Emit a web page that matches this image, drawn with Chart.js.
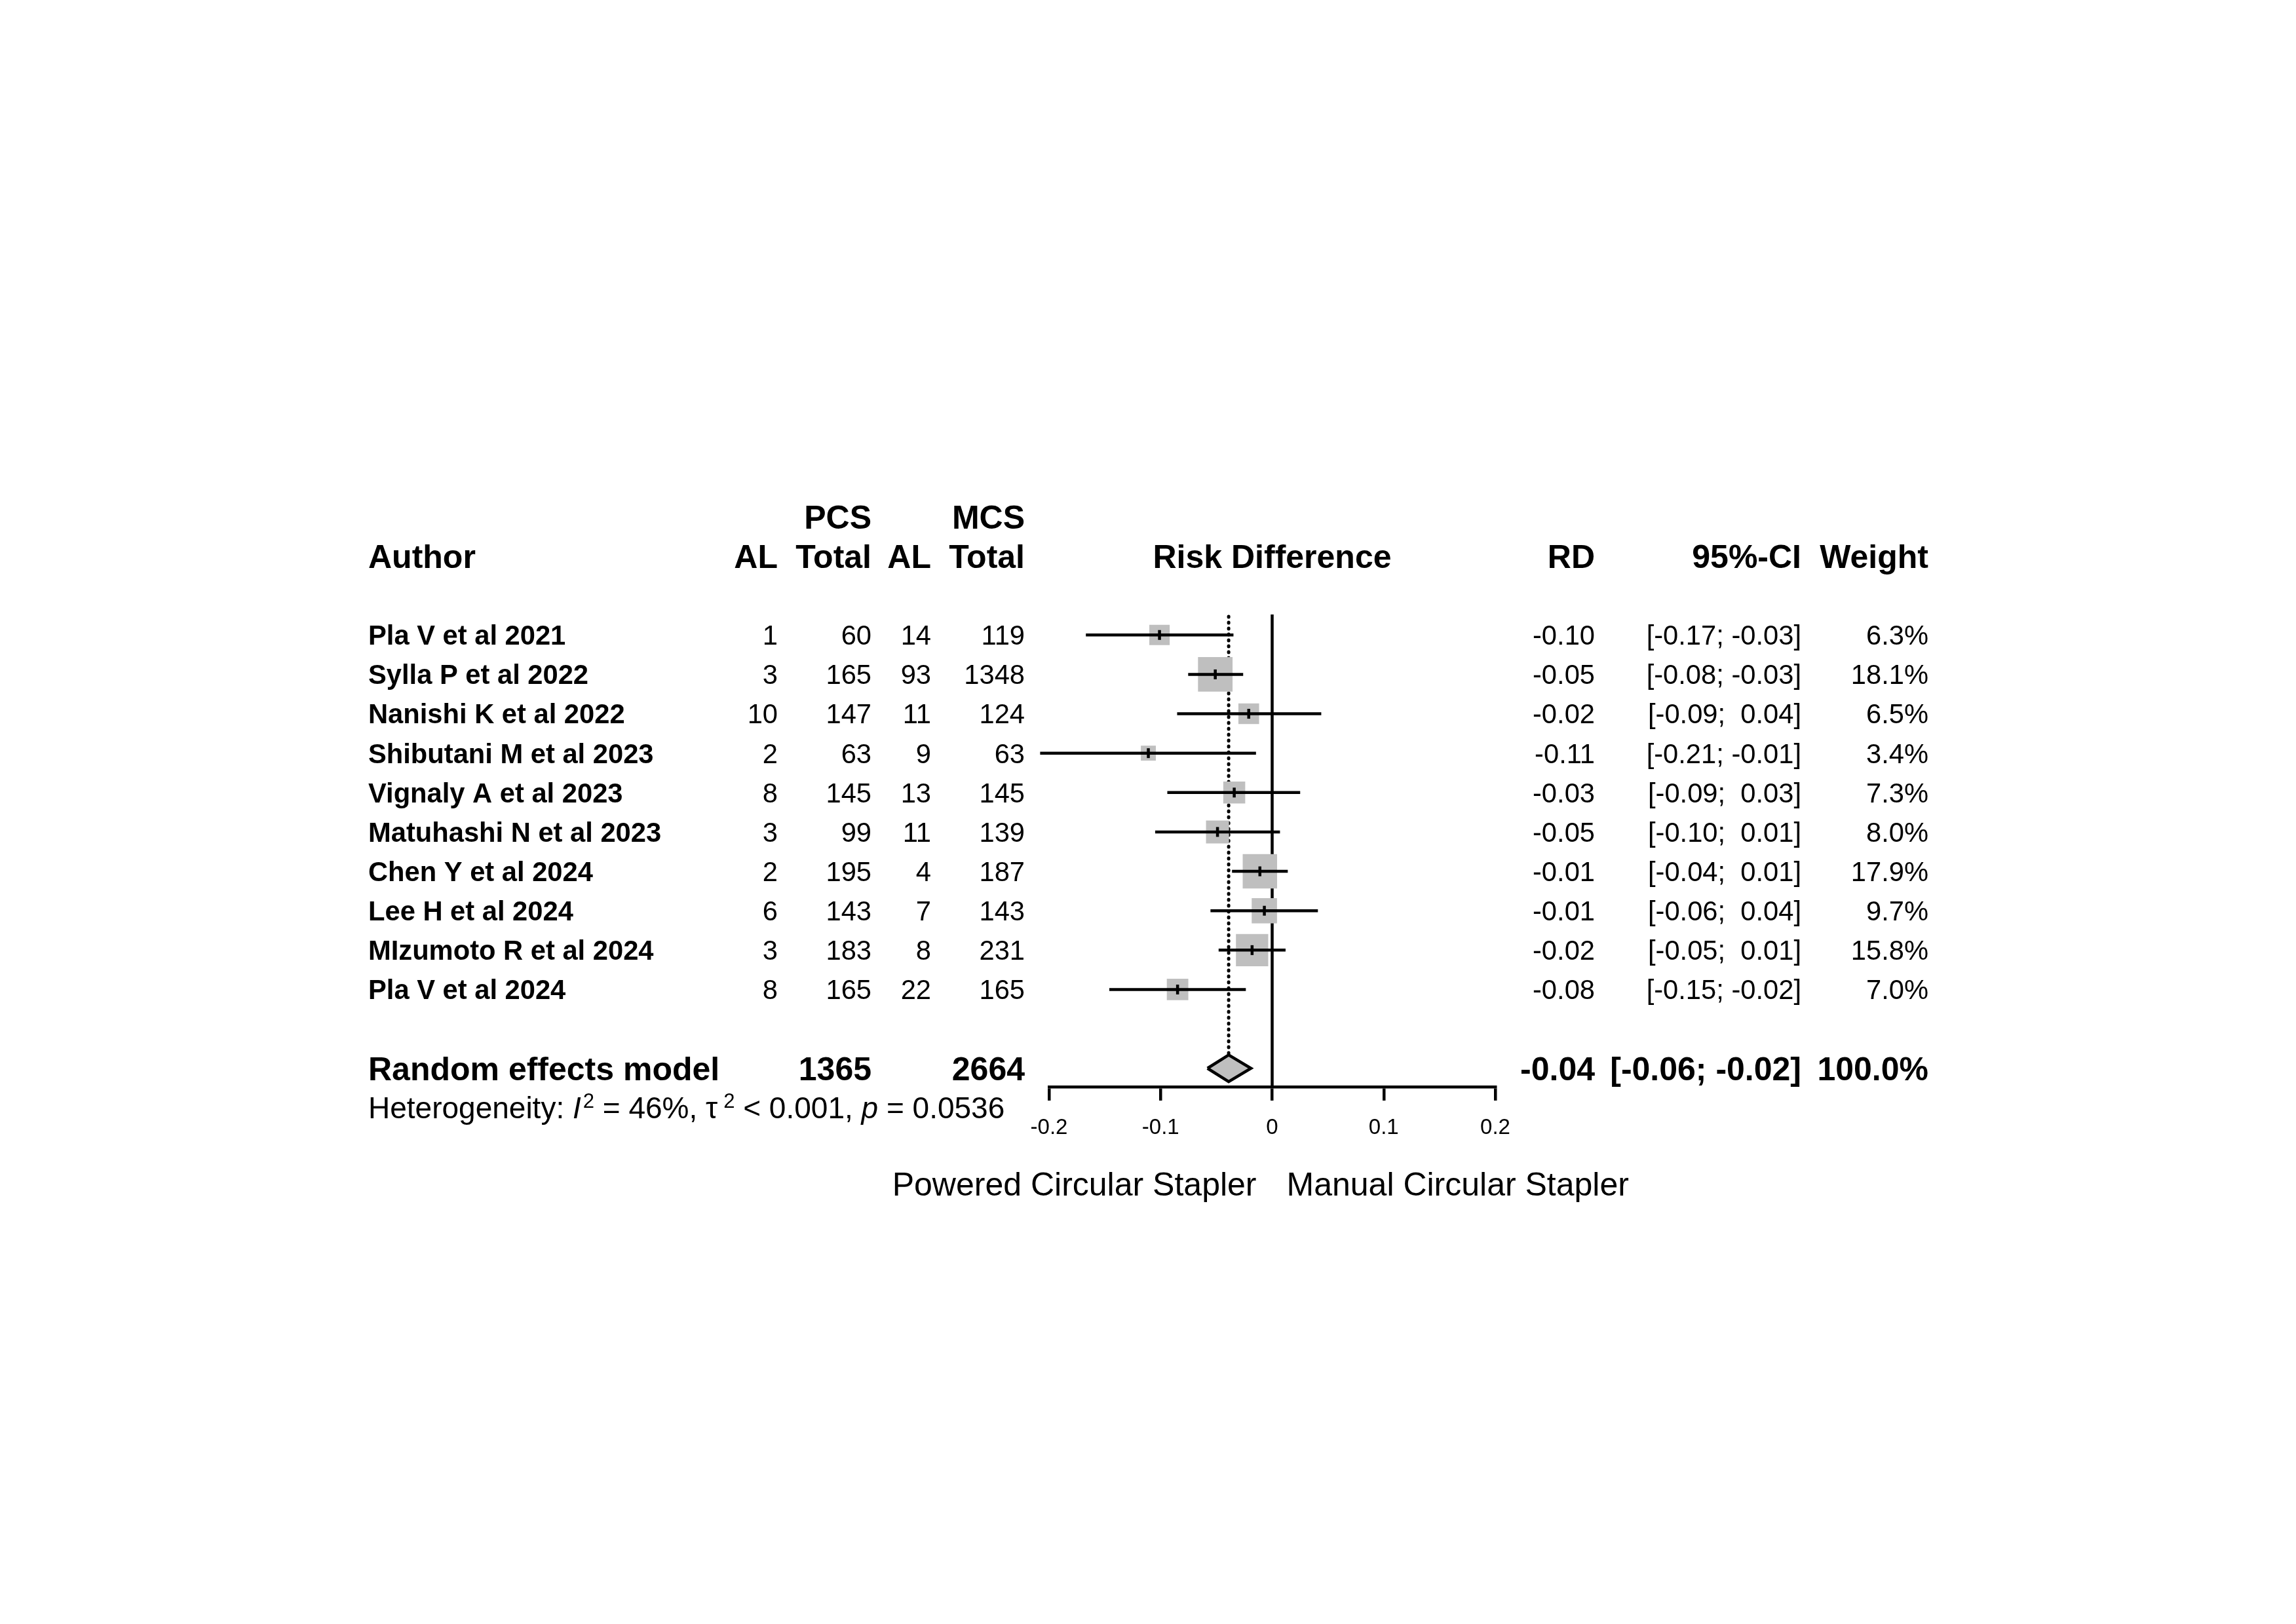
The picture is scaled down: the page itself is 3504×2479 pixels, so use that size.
<!DOCTYPE html>
<html>
<head>
<meta charset="utf-8">
<title>Forest plot – PCS vs MCS, anastomotic leak</title>
<script src="https://cdn.jsdelivr.net/npm/chart.js@4.4.1/dist/chart.umd.min.js"></script>
<style>
  html, body { margin: 0; padding: 0; background: #fff; }
  canvas { display: block; }
</style>
</head>
<body>
<canvas id="forest" width="3504" height="2479" style="width:3504px;height:2479px"></canvas>
<script>
'use strict';

// ── Data ─────────────────────────────────────────────────────
const authors = [
  'Pla V et al 2021', 'Sylla P et al 2022', 'Nanishi K et al 2022',
  'Shibutani M et al 2023', 'Vignaly A et al 2023', 'Matuhashi N et al 2023',
  'Chen Y et al 2024', 'Lee H et al 2024', 'MIzumoto R et al 2024', 'Pla V et al 2024'
];
const alPCS    = [1, 3, 10, 2, 8, 3, 2, 6, 3, 8];
const totalPCS = [60, 165, 147, 63, 145, 99, 195, 143, 183, 165];
const alMCS    = [14, 93, 11, 9, 13, 11, 4, 7, 8, 22];
const totalMCS = [119, 1348, 124, 63, 145, 139, 187, 143, 231, 165];

const rd     = [-0.101, -0.051, -0.021, -0.111, -0.034, -0.049, -0.011, -0.007, -0.018, -0.0848];
const ciLow  = [-0.167, -0.0753, -0.0852, -0.208, -0.094, -0.1049, -0.036, -0.0553, -0.048, -0.146];
const ciHigh = [-0.0347, -0.026, 0.044, -0.0145, 0.0251, 0.007, 0.014, 0.041, 0.012, -0.0236];
const weights = [6.3, 18.1, 6.5, 3.4, 7.3, 8.0, 17.9, 9.7, 15.8, 7.0];

const summaryRD = -0.039;
const summaryLow = -0.058;
const summaryHigh = -0.019;
const summaryTotals = [1365, 2664];
const hetI2 = '46%';
const hetTau2 = '< 0.001';
const hetP = '0.0536';

const xTicks = [-0.2, -0.1, 0, 0.1, 0.2];
const xTickLabels = ['-0.2', '-0.1', '0', '0.1', '0.2'];

const labelLeft = 'Powered Circular Stapler';
const labelRight = 'Manual Circular Stapler';

// ── Layout ───────────────────────────────────────────────────
const FONT = "'Liberation Sans', Arial, Helvetica, sans-serif";
const SUMMARY_ROW = authors.length + 1;
const HET_ROW = SUMMARY_ROW + 1;
const LABEL_ROW = SUMMARY_ROW + 2.93;
const Y_MIN = -0.52, Y_MAX = 11.47;
const DIAMOND_HALF = 0.34;

const COL = { author: 562, alP: 1187, totP: 1330, alM: 1421, totM: 1564, rd: 2434, ci: 2749, w: 2943 };
const BODY = 41.7, HEAD = 50;

Chart.defaults.font.family = FONT;
Chart.defaults.color = '#000';

function fmtCI(lo, hi) {
  const f = v => (v < 0 ? '' : ' ') + v.toFixed(2);
  return '[' + f(lo) + '; ' + f(hi) + ']';
}

function put(ctx, str, x, y, align, size, bold, italic) {
  ctx.font = (italic ? 'italic ' : '') + (bold ? 'bold ' : '') + size + 'px ' + FONT;
  ctx.textAlign = align;
  ctx.textBaseline = 'alphabetic';
  ctx.fillText(str, x, y + size * 0.358);
}

const tablePlugin = {
  id: 'forestTable',
  afterDraw(chart) {
    const ctx = chart.ctx;
    const ys = chart.scales.y;
    const xs = chart.scales.x;
    const row = r => ys.getPixelForValue(r);
    ctx.save();
    ctx.fillStyle = '#000';

    // headers
    put(ctx, 'PCS', COL.totP, row(-3), 'right', HEAD, true);
    put(ctx, 'MCS', COL.totM, row(-3), 'right', HEAD, true);
    put(ctx, 'Author', COL.author, row(-2), 'left', HEAD, true);
    put(ctx, 'AL', COL.alP, row(-2), 'right', HEAD, true);
    put(ctx, 'Total', COL.totP, row(-2), 'right', HEAD, true);
    put(ctx, 'AL', COL.alM, row(-2), 'right', HEAD, true);
    put(ctx, 'Total', COL.totM, row(-2), 'right', HEAD, true);
    put(ctx, 'Risk Difference', xs.getPixelForValue(0), row(-2), 'center', HEAD, true);
    put(ctx, 'RD', COL.rd, row(-2), 'right', HEAD, true);
    put(ctx, '95%-CI', COL.ci, row(-2), 'right', HEAD, true);
    put(ctx, 'Weight', COL.w, row(-2), 'right', HEAD, true);

    // studies
    authors.forEach((a, i) => {
      const y = row(i);
      put(ctx, a, COL.author, y, 'left', BODY, true);
      put(ctx, String(alPCS[i]), COL.alP, y, 'right', BODY);
      put(ctx, String(totalPCS[i]), COL.totP, y, 'right', BODY);
      put(ctx, String(alMCS[i]), COL.alM, y, 'right', BODY);
      put(ctx, String(totalMCS[i]), COL.totM, y, 'right', BODY);
      put(ctx, rd[i].toFixed(2), COL.rd, y, 'right', BODY);
      put(ctx, fmtCI(ciLow[i], ciHigh[i]), COL.ci, y, 'right', BODY);
      put(ctx, weights[i].toFixed(1) + '%', COL.w, y, 'right', BODY);
    });

    // summary
    const ySum = row(SUMMARY_ROW);
    put(ctx, 'Random effects model', COL.author, ySum, 'left', HEAD, true);
    put(ctx, String(summaryTotals[0]), COL.totP, ySum, 'right', HEAD, true);
    put(ctx, String(summaryTotals[1]), COL.totM, ySum, 'right', HEAD, true);
    put(ctx, summaryRD.toFixed(2), COL.rd, ySum, 'right', HEAD, true);
    put(ctx, fmtCI(summaryLow, summaryHigh), COL.ci, ySum, 'right', HEAD, true);
    put(ctx, '100.0%', COL.w, ySum, 'right', HEAD, true);

    // heterogeneity line
    const HET = 46;
    const base = row(HET_ROW) + HET * 0.358;
    const runs = [
      { t: 'Heterogeneity: ' },
      { t: 'I', italic: true },
      { t: '2', sup: true, gap: 3 },
      { t: ' = ' + hetI2 + ', ' },
      { t: '\u03C4' },
      { t: '2', sup: true, gap: 9 },
      { t: ' ' + hetTau2 + ', ' },
      { t: 'p', italic: true },
      { t: ' = ' + hetP }
    ];
    let x = COL.author;
    ctx.textAlign = 'left';
    ctx.textBaseline = 'alphabetic';
    runs.forEach(r => {
      const size = r.sup ? 31 : HET;
      ctx.font = (r.italic ? 'italic ' : '') + size + 'px ' + FONT;
      x += r.gap || 0;
      ctx.fillText(r.t, x, r.sup ? base - 16 : base);
      x += ctx.measureText(r.t).width;
    });

    // direction labels under the axis
    const x0 = xs.getPixelForValue(0);
    put(ctx, labelLeft, x0 - 24, row(LABEL_ROW), 'right', HEAD);
    put(ctx, labelRight, x0 + 22, row(LABEL_ROW), 'left', HEAD);

    ctx.restore();
  }
};

// ── Datasets ─────────────────────────────────────────────────
const pts = rd.map((v, i) => ({ x: v, y: i }));
const ciSegments = rd.flatMap((v, i) => [
  { x: ciLow[i], y: i }, { x: ciHigh[i], y: i }, { x: ciHigh[i], y: null }
]);
const diamond = [
  { x: summaryLow, y: SUMMARY_ROW },
  { x: summaryRD, y: SUMMARY_ROW - DIAMOND_HALF },
  { x: summaryHigh, y: SUMMARY_ROW },
  { x: summaryRD, y: SUMMARY_ROW + DIAMOND_HALF },
  { x: summaryLow, y: SUMMARY_ROW }
];

new Chart(document.getElementById('forest'), {
  type: 'scatter',
  data: {
    datasets: [
      {
        // estimate tick marks
        type: 'scatter', data: pts, order: 0,
        pointStyle: 'line', rotation: 90, pointRadius: 7.5,
        borderColor: '#000', borderWidth: 4.5
      },
      {
        // confidence intervals (may run past the axis limits)
        type: 'line', data: ciSegments, order: 1, clip: false,
        borderColor: '#000', borderWidth: 4.5, pointRadius: 0, spanGaps: false, fill: false
      },
      {
        // weight squares
        type: 'scatter', data: pts, order: 2,
        pointStyle: 'rect',
        pointRadius: weights.map(w => 12.4 * Math.sqrt(w) / (2 * Math.SQRT1_2)),
        backgroundColor: '#bfbfbf', borderWidth: 0
      },
      {
        // random effects diamond
        type: 'line', data: diamond, order: 3,
        borderColor: '#000', borderWidth: 4.5, backgroundColor: '#bfbfbf',
        fill: 'shape', pointRadius: 0, borderJoinStyle: 'miter'
      },
      {
        // line of no effect
        type: 'line', data: [{ x: 0, y: Y_MIN }, { x: 0, y: Y_MAX }], order: 4,
        borderColor: '#000', borderWidth: 4.5, pointRadius: 0, fill: false
      },
      {
        // summary estimate (dotted)
        type: 'line', data: [{ x: summaryRD, y: Y_MIN + 0.05 }, { x: summaryRD, y: SUMMARY_ROW - DIAMOND_HALF }], order: 4,
        borderColor: '#000', borderWidth: 5, borderDash: [1, 8], borderCapStyle: 'round',
        pointRadius: 0, fill: false
      }
    ]
  },
  options: {
    responsive: false,
    devicePixelRatio: 1,
    animation: false,
    events: [],
    layout: { padding: { left: 1601, right: 1222, top: 938, bottom: 720 } },
    plugins: { legend: { display: false }, tooltip: { enabled: false } },
    scales: {
      x: {
        type: 'linear', min: -0.2, max: 0.2,
        afterBuildTicks: s => { s.ticks = xTicks.map(v => ({ value: v })); },
        afterFit: s => { s.height = 100; },
        ticks: {
          autoSkip: false, maxRotation: 0, padding: 22, color: '#000',
          font: { size: 33 },
          callback: (v, i) => xTickLabels[i]
        },
        grid: { drawOnChartArea: false, drawTicks: true, tickLength: 21, color: '#000', lineWidth: 4.5 },
        border: { display: true, color: '#000', width: 4.5 }
      },
      y: { type: 'linear', reverse: true, min: Y_MIN, max: Y_MAX, display: false }
    }
  },
  plugins: [tablePlugin]
});
</script>
</body>
</html>
